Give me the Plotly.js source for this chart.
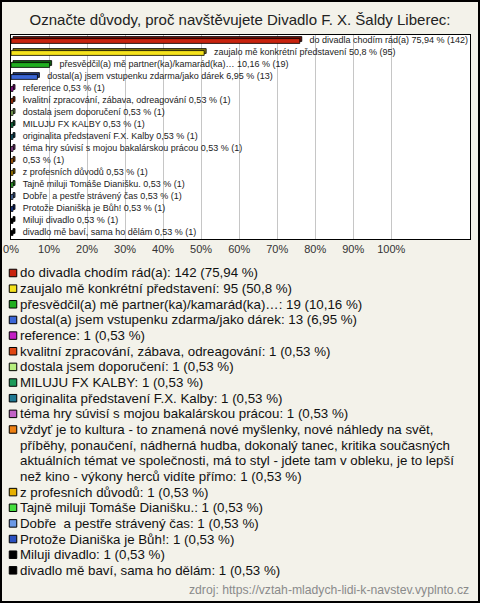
<!DOCTYPE html>
<html><head><meta charset="utf-8">
<script src="https://cdn.plot.ly/plotly-3.0.1.min.js"></script>
<style>
html,body{margin:0;padding:0;background:#f3f2ea;}
#wrap{position:relative;width:480px;height:603px;}
#chart{width:480px;height:603px;}
#frame{position:absolute;left:0;top:0;width:480px;height:603px;box-sizing:border-box;border:2px solid #000;pointer-events:none;}
</style></head><body>
<div id="wrap"><div id="chart"></div><div id="frame"></div></div>
<script>
// ---- data ----
const categories = [
  "do divadla chodím rád(a)",
  "zaujalo mě konkrétní představení",
  "přesvědčil(a) mě partner(ka)/kamarád(ka)…",
  "dostal(a) jsem vstupenku zdarma/jako dárek",
  "reference",
  "kvalitní zpracování, zábava, odreagování",
  "dostala jsem doporučení",
  "MILUJU FX KALBY",
  "originalita představení F.X. Kalby",
  "téma hry súvisí s mojou bakalárskou prácou",
  "vždyť je to kultura - to znamená nové myšlenky, nové náhledy na svět,<br>příběhy, ponaučení, nádherná hudba, dokonalý tanec, kritika současných<br>aktuálních témat ve společnosti, má to styl - jdete tam v obleku, je to lepší<br>než kino - výkony herců vidíte přímo",
  "z profesních důvodů",
  "Tajně miluji Tomáše Dianišku.",
  "Dobře  a pestře strávený čas",
  "Protože Dianiška je Bůh!",
  "Miluji divadlo",
  "divadlo mě baví, sama ho dělám"
];
const barLabels = [
  "do divadla chodím rád(a)",
  "zaujalo mě konkrétní představení",
  "přesvědčil(a) mě partner(ka)/kamarád(ka)…",
  "dostal(a) jsem vstupenku zdarma/jako dárek",
  "reference",
  "kvalitní zpracování, zábava, odreagování",
  "dostala jsem doporučení",
  "MILUJU FX KALBY",
  "originalita představení F.X. Kalby",
  "téma hry súvisí s mojou bakalárskou prácou",
  "",
  "z profesních důvodů",
  "Tajně miluji Tomáše Dianišku.",
  "Dobře  a pestře strávený čas",
  "Protože Dianiška je Bůh!",
  "Miluji divadlo",
  "divadlo mě baví, sama ho dělám"
];
const counts   = [142, 95, 19, 13, 1, 1, 1, 1, 1, 1, 1, 1, 1, 1, 1, 1, 1];
const percents = [75.94, 50.8, 10.16, 6.95, 0.53, 0.53, 0.53, 0.53, 0.53, 0.53, 0.53, 0.53, 0.53, 0.53, 0.53, 0.53, 0.53];
const colors = ["#c8230e","#f5e21c","#1fae1f","#3b66d6","#c41ec4","#df4612","#b6ef7e","#1c9a5a",
                "#1f7892","#c262c6","#ee8012","#e6b000","#46df3e","#6a98e6","#2a50c0","#000000","#000000"];
const tickValues = [0,10,20,30,40,50,60,70,80,90,100];
const tickLabels = ["0%","10%","20%","30%","40%","50%","60%","70%","80%","90%","100%"];
const sourceText = "zdroj: https://vztah-mladych-lidi-k-navstev.vyplnto.cz";
const titleText = "Označte důvody, proč navštěvujete Divadlo F. X. Šaldy Liberec:";

// ---- helpers ----
const FONT = 'Arial, "Liberation Sans", sans-serif';
const fmt = p => String(p).replace('.', ',');
function darken(hex, f){
  const n = parseInt(hex.slice(1),16);
  const r = Math.round(((n>>16)&255)*f), g = Math.round(((n>>8)&255)*f), b = Math.round((n&255)*f);
  return 'rgb('+r+','+g+','+b+')';
}
const idx = categories.map((c,i)=>i);
const XMAX = 120.7;
const plotL = 11, plotR = 470, plotT = 35, plotB = 239, W = 480, H = 603;
const depthX = 2 * XMAX / (plotR - plotL);   // 2px depth in data units
const band = (plotB - plotT) / categories.length;
const depthY = 2 / band;
const bw = 0.4;

const chartText = idx.map(i => (barLabels[i] ? barLabels[i] + ' ' : '') + fmt(percents[i]) + ' % (' + counts[i] + ')');

// legend lines
const legendLines = [];
const swatchSlots = [];
idx.forEach(i => {
  const lines = categories[i].split('<br>');
  lines[lines.length-1] += ': ' + counts[i] + ' (' + fmt(percents[i]) + ' %)';
  swatchSlots.push(legendLines.length);
  lines.forEach(l => legendLines.push(l));
});
const nSlots = legendLines.length;
const slot0 = 273, slotH = 15.65;
const legTop = slot0 - slotH/2, legBot = slot0 + (nSlots - 0.5) * slotH;

const traces = [
  { type:'bar', orientation:'h', y: idx, x: percents, base: depthX,
    width: bw, offset: -bw/2 - depthY,
    marker:{color: colors.map(c=>darken(c,0.55)), line:{color:'#000', width:0.8}},
    hoverinfo:'skip', showlegend:false },
  { type:'bar', orientation:'h', y: idx, x: percents, base: 0,
    width: bw, offset: -bw/2,
    marker:{color: colors, line:{color:'#000', width:0.8}},
    hoverinfo:'skip', showlegend:false },
  { type:'scatter', mode:'markers+text', x: percents, y: idx, text: chartText,
    textposition:'middle right', cliponaxis:true,
    marker:{size:14, color:'rgba(0,0,0,0)'},
    textfont:{family:FONT, size:9, color:'#222'},
    hoverinfo:'skip', showlegend:false },
  { type:'scatter', mode:'markers', xaxis:'x2', yaxis:'y2',
    x: idx.map(()=>0), y: swatchSlots,
    marker:{symbol:'square', size:7.5, color: colors, line:{color:'#000', width:1}},
    hoverinfo:'skip', showlegend:false }
];

const annotations = legendLines.map((t,k)=>({
  xref:'x2', yref:'y2', x:0, y:k, xshift:5, xanchor:'left', yanchor:'middle',
  text:t, showarrow:false, font:{family:FONT, size:13.3, color:'#111'}
}));
annotations.push({xref:'paper', yref:'paper', x:(plotR+1)/W, y:1-590/H, xanchor:'right', yanchor:'middle',
  text:sourceText, showarrow:false, font:{family:FONT, size:12.2, color:'#8a8a8a'}});

const layout = {
  width:W, height:H, margin:{l:0,r:0,t:0,b:0},
  paper_bgcolor:'#f3f2ea', plot_bgcolor:'rgba(0,0,0,0)',
  barmode:'overlay', showlegend:false,
  title:{text:titleText, x:0.5, xanchor:'center', y:1-20/H, yanchor:'middle',
         font:{family:FONT, size:15, color:'#222'}},
  xaxis:{domain:[plotL/W, plotR/W], range:[0, XMAX], anchor:'y',
         tickmode:'array', tickvals:tickValues, ticktext:tickLabels, ticks:'',
         showgrid:true, gridcolor:'#c6c6c6', gridwidth:1, zeroline:false,
         showline:true, mirror:true, linecolor:'#000', linewidth:1,
         tickfont:{family:FONT, size:11, color:'#333'}, fixedrange:true},
  yaxis:{domain:[1-plotB/H, 1-plotT/H], range:[categories.length-0.5, -0.5], anchor:'x',
         showticklabels:false, ticks:'', showgrid:false, zeroline:false,
         showline:true, mirror:true, linecolor:'#000', linewidth:1, fixedrange:true},
  xaxis2:{domain:[0,1], range:[-13, W-13], anchor:'y2', visible:false, fixedrange:true},
  yaxis2:{domain:[1-legBot/H, 1-legTop/H], range:[nSlots-0.5, -0.5], anchor:'x2', visible:false, fixedrange:true},
  shapes:[{type:'rect', xref:'x domain', yref:'y domain', x0:0, x1:1, y0:0, y1:1,
           fillcolor:'#ffffff', line:{width:0}, layer:'below'}],
  annotations: annotations
};
Plotly.newPlot('chart', traces, layout, {displayModeBar:false, staticPlot:true});
</script>
</body></html>
